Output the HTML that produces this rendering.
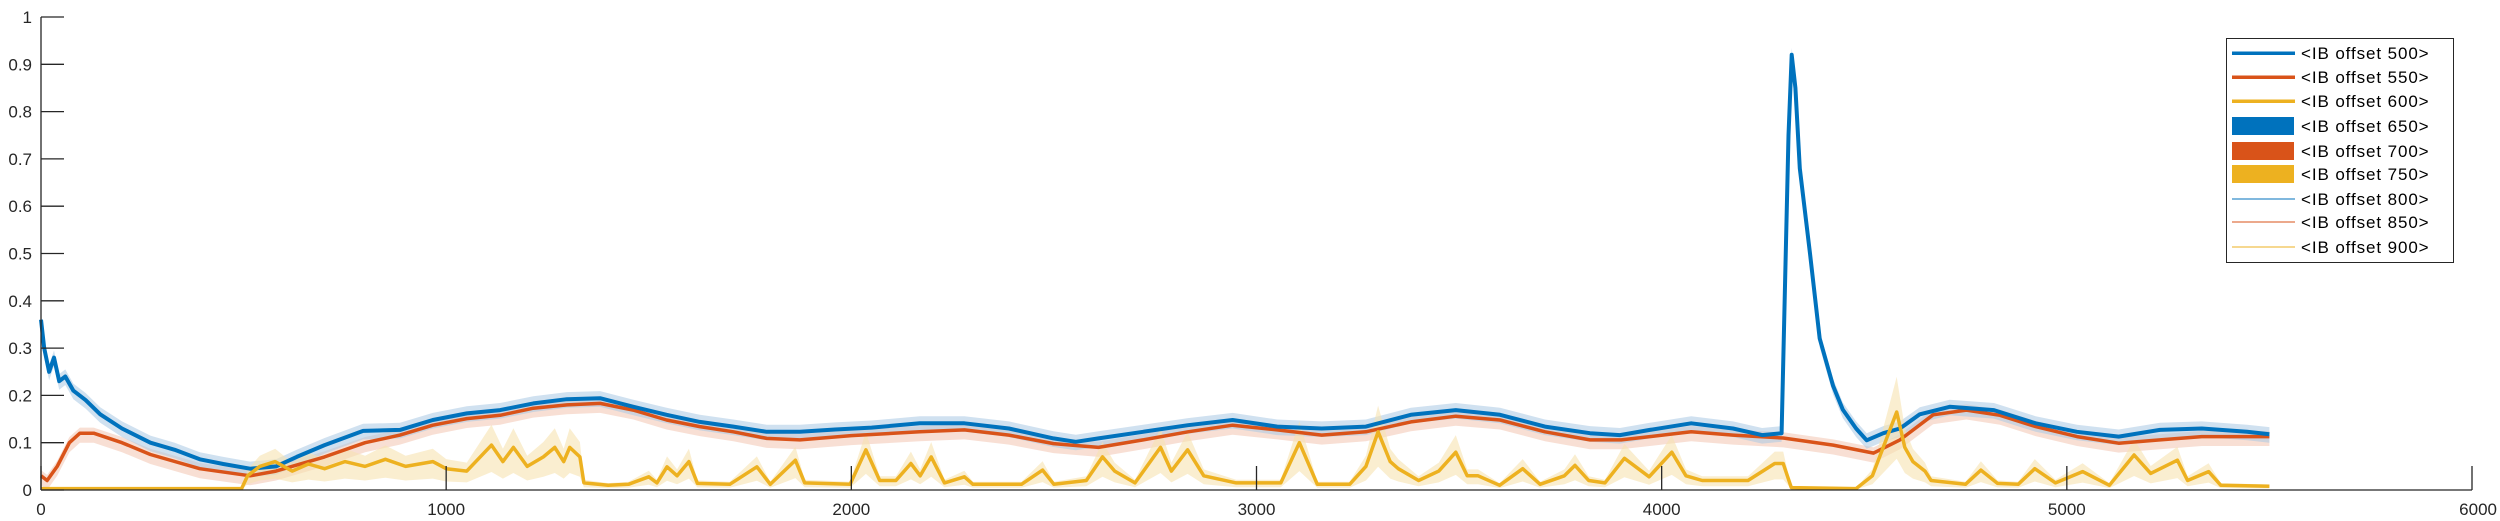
<!DOCTYPE html>
<html><head><meta charset="utf-8"><style>
html,body{margin:0;padding:0;background:#fff;}
svg{display:block;font-family:"Liberation Sans",sans-serif;}
</style></head><body>
<svg id="chart" width="2500" height="521" viewBox="0 0 2500 521" xmlns="http://www.w3.org/2000/svg">
<g id="bands"></g>
<g id="lines"></g>
<g id="axes"></g>
<g id="legend"></g>
</svg>
<script>
const xTicks=[0,1000,2000,3000,4000,5000,6000];
const yTicks=[0,0.1,0.2,0.3,0.4,0.5,0.6,0.7,0.8,0.9,1];
const yTickLabels=["0","0.1","0.2","0.3","0.4","0.5","0.6","0.7","0.8","0.9","1"];
const blueX=[0,8,20,32,45,60,80,110,146,200,270,330,392,450,516,580,631,700,795,886,967,1051,1133,1215,1298,1380,1462,1544,1626,1709,1791,1873,1960,2050,2169,2279,2389,2499,2554,2610,2720,2831,2941,3051,3161,3270,3381,3492,3601,3712,3823,3897,3971,4073,4176,4248,4296,4305,4313,4321,4330,4341,4366,4390,4423,4447,4480,4506,4547,4588,4637,4711,4820,4923,5025,5128,5230,5333,5445,5500];
const blueY=[0.36,0.30,0.25,0.28,0.23,0.24,0.21,0.19,0.16,0.13,0.10,0.085,0.065,0.055,0.045,0.05,0.07,0.095,0.125,0.127,0.148,0.162,0.169,0.183,0.192,0.194,0.176,0.159,0.144,0.134,0.123,0.123,0.128,0.132,0.141,0.141,0.130,0.109,0.102,0.109,0.123,0.137,0.148,0.134,0.130,0.134,0.159,0.169,0.159,0.134,0.120,0.116,0.127,0.141,0.130,0.116,0.12,0.45,0.75,0.92,0.85,0.68,0.50,0.32,0.22,0.17,0.13,0.105,0.12,0.13,0.16,0.176,0.169,0.141,0.123,0.113,0.127,0.130,0.123,0.118];
const redX=[0,15,40,70,96,130,200,270,392,516,580,700,800,886,967,1051,1133,1215,1298,1380,1462,1544,1626,1709,1791,1873,2000,2169,2279,2389,2499,2610,2720,2831,2941,3051,3161,3270,3381,3492,3601,3712,3823,3900,4073,4176,4300,4423,4523,4588,4670,4752,4835,4923,5025,5128,5230,5333,5500];
const redY=[0.03,0.02,0.05,0.10,0.12,0.12,0.10,0.075,0.045,0.03,0.04,0.07,0.10,0.116,0.137,0.151,0.158,0.173,0.180,0.183,0.169,0.148,0.134,0.123,0.109,0.106,0.115,0.123,0.127,0.116,0.098,0.090,0.106,0.123,0.137,0.127,0.116,0.123,0.144,0.156,0.148,0.123,0.106,0.106,0.123,0.116,0.11,0.095,0.078,0.106,0.159,0.169,0.158,0.134,0.113,0.099,0.106,0.113,0.113];
const yellowX=[0,495,510,540,578,620,660,700,750,800,850,900,967,1000,1051,1112,1140,1166,1200,1240,1268,1290,1305,1330,1340,1400,1450,1500,1520,1545,1570,1599,1620,1700,1767,1800,1862,1885,1997,2036,2070,2110,2147,2170,2197,2230,2279,2300,2420,2472,2500,2580,2620,2650,2700,2763,2790,2830,2870,2950,3060,3106,3150,3230,3270,3300,3330,3350,3400,3450,3492,3520,3547,3600,3657,3700,3760,3786,3820,3860,3908,3969,4025,4060,4100,4213,4279,4300,4320,4480,4520,4560,4580,4600,4620,4650,4665,4750,4788,4829,4880,4921,4972,5039,5105,5166,5207,5273,5298,5350,5380,5500];
const yellowY=[0.003,0.003,0.03,0.05,0.06,0.04,0.055,0.045,0.06,0.05,0.065,0.05,0.06,0.045,0.04,0.095,0.06,0.09,0.05,0.07,0.09,0.06,0.09,0.07,0.015,0.01,0.012,0.028,0.015,0.049,0.03,0.06,0.014,0.012,0.049,0.012,0.063,0.015,0.012,0.085,0.02,0.02,0.056,0.03,0.07,0.015,0.028,0.012,0.012,0.042,0.012,0.02,0.07,0.04,0.015,0.09,0.04,0.085,0.03,0.015,0.015,0.10,0.012,0.012,0.05,0.123,0.06,0.045,0.02,0.04,0.08,0.03,0.03,0.01,0.045,0.012,0.03,0.052,0.02,0.015,0.067,0.028,0.08,0.03,0.02,0.02,0.056,0.056,0.005,0.003,0.03,0.12,0.165,0.09,0.06,0.04,0.02,0.012,0.042,0.014,0.012,0.045,0.015,0.039,0.01,0.074,0.035,0.063,0.02,0.039,0.01,0.008];
const legendLabels=["<IB offset 500>","<IB offset 550>","<IB offset 600>","<IB offset 650>","<IB offset 700>","<IB offset 750>","<IB offset 800>","<IB offset 850>","<IB offset 900>"];

const NS="http://www.w3.org/2000/svg";
const X0=41,X1=2472,Y0=490,Y1=17;
function sx(v){return X0+(v-0)/(6000-0)*(X1-X0);}
function sy(v){return Y0-(v-0)/(1-0)*(Y0-Y1);}
function mk(tag,attrs,parent){const e=document.createElementNS(NS,tag);for(const k in attrs)e.setAttribute(k,attrs[k]);parent.appendChild(e);return e;}
function linePath(xs,ys){return xs.map((x,i)=>(i?"L":"M")+sx(x).toFixed(1)+","+sy(ys[i]).toFixed(1)).join("");}
function bandPath(xs,ys,lo,hi){let d=xs.map((x,i)=>(i?"L":"M")+sx(x).toFixed(1)+","+sy(hi(ys[i])).toFixed(1)).join("");for(let i=xs.length-1;i>=0;i--)d+="L"+sx(xs[i]).toFixed(1)+","+sy(lo(ys[i])).toFixed(1);return d+"Z";}

const bands=document.getElementById('bands');
let b;
b=mk('path',{d:bandPath(redX,redY,v=>Math.max(0,v-0.02),v=>v+0.012),fill:"#f3c9b8","fill-opacity":"0.6"},bands);


b=mk('path',{d:bandPath(blueX,blueY,v=>Math.max(0,v-0.018),v=>v+0.015),fill:"#a9c9e4","fill-opacity":"0.55"},bands);


b=mk('path',{d:bandPath(yellowX,yellowY,v=>v*0.4,v=>v*1.45),fill:"#f7e2b0","fill-opacity":"0.6"},bands);



const lines=document.getElementById('lines');
let l;
l=mk('path',{d:linePath(redX,redY),fill:"none",stroke:"#d95319","stroke-width":"3.5","stroke-linejoin":"round"},lines);


l=mk('path',{d:linePath(blueX,blueY),fill:"none",stroke:"#0072bd","stroke-width":"4","stroke-linejoin":"round"},lines);


l=mk('path',{d:linePath(yellowX,yellowY),fill:"none",stroke:"#edb120","stroke-width":"3.5","stroke-linejoin":"round"},lines);



const axes=document.getElementById('axes');
let a;
a=mk('line',{x1:X0,y1:Y1,x2:X0,y2:Y0,stroke:"#262626","stroke-width":"1.3"},axes);


a=mk('line',{x1:X0,y1:Y0,x2:X1,y2:Y0,stroke:"#262626","stroke-width":"1.3"},axes);


yTicks.forEach((v,i)=>{
  const t=mk('line',{x1:X0,y1:sy(v),x2:X0+23,y2:sy(v),stroke:"#262626","stroke-width":"1.3"},axes);
  
  
  const tx=mk('text',{x:X0-9,y:sy(v)+6,"text-anchor":"end","font-size":"17",fill:"#262626"},axes);
  tx.textContent=yTickLabels[i];
  
  
});
xTicks.forEach(v=>{
  const t=mk('line',{x1:sx(v),y1:Y0,x2:sx(v),y2:Y0-24,stroke:"#262626","stroke-width":"1.3"},axes);
  
  
  const tx=mk('text',{x:sx(v),y:515,"text-anchor":v===6000?"end":"middle","font-size":"17",fill:"#262626"},axes);
  if(v===6000)tx.setAttribute('x',2497);
  tx.textContent=String(v);
  
  
});

const legend=document.getElementById('legend');
const lb=mk('rect',{x:2226.5,y:38.5,width:227,height:224,fill:"#fff",stroke:"#262626","stroke-width":"1"},legend);


const cols=["#0072bd","#d95319","#edb120"];
const rowY=[53,77,101,126,151,174,199,222,247];
legendLabels.forEach((lab,i)=>{
  const c=cols[i%3];
  let sw;
  if(i<3) sw=mk('rect',{x:2232,y:rowY[i]-1.5,width:63,height:3.5,fill:c},legend);
  else if(i<6) sw=mk('rect',{x:2232,y:rowY[i]-9,width:62,height:18,fill:c},legend);
  else sw=mk('rect',{x:2232,y:rowY[i]-0.5,width:63,height:1,fill:c},legend);
  
  
  const t=mk('text',{x:2301,y:rowY[i]+6,"font-size":"17","letter-spacing":"0.9",fill:"#000"},legend);
  t.textContent=lab;
  
  
});
</script>
</body></html>
